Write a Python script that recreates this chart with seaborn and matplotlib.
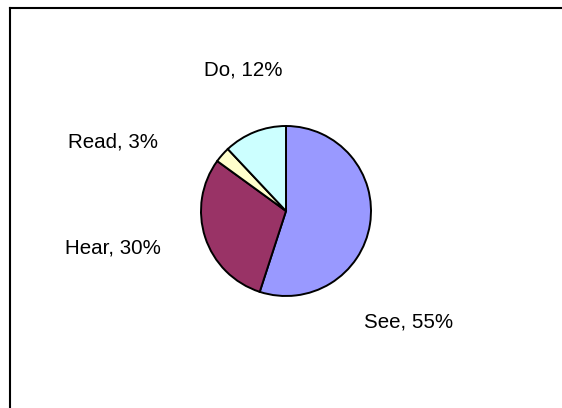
import matplotlib
matplotlib.use("Agg")
import matplotlib.pyplot as plt
import seaborn as sns

categories = ["See", "Hear", "Read", "Do"]
shares = [55, 30, 3, 12]
slice_colors = ["#9999FF", "#993366", "#FFFFCC", "#CCFFFF"]

sns.set_theme(style="white")
plt.rcParams["font.family"] = ["Liberation Sans", "DejaVu Sans"]

W, H = 562, 408
fig = plt.figure(figsize=(W / 100, H / 100), dpi=100)
ax = fig.add_axes([0, 0, 1, 1])

cx, cy, r = 286, H - 211, 85
ax.pie(shares, colors=slice_colors, startangle=90, counterclock=False,
       center=(cx, cy), radius=r, frame=True,
       wedgeprops=dict(edgecolor="black", linewidth=1.4))
ax.set_xlim(0, W)
ax.set_ylim(0, H)
ax.set_aspect("equal")
ax.set_axis_off()

# label anchors: horizontal centre and text baseline, in pixels from top-left
label_pos = {"See": (409, 327), "Hear": (112.5, 253), "Read": (112.5, 147), "Do": (243.5, 75)}
for name, val in zip(categories, shares):
    x, y = label_pos[name]
    ax.text(x, H - y, f"{name}, {val}%", ha="center", va="baseline",
            fontsize=14.8, color="black")

# chart area border (left and top edges)
ax.plot([10, 10], [0, H - 7.5], color="black", linewidth=1.5, solid_capstyle="projecting")
ax.plot([10, W], [H - 7.5, H - 7.5], color="black", linewidth=1.5, solid_capstyle="projecting")

fig.savefig("out.png", dpi=100, facecolor="white")
